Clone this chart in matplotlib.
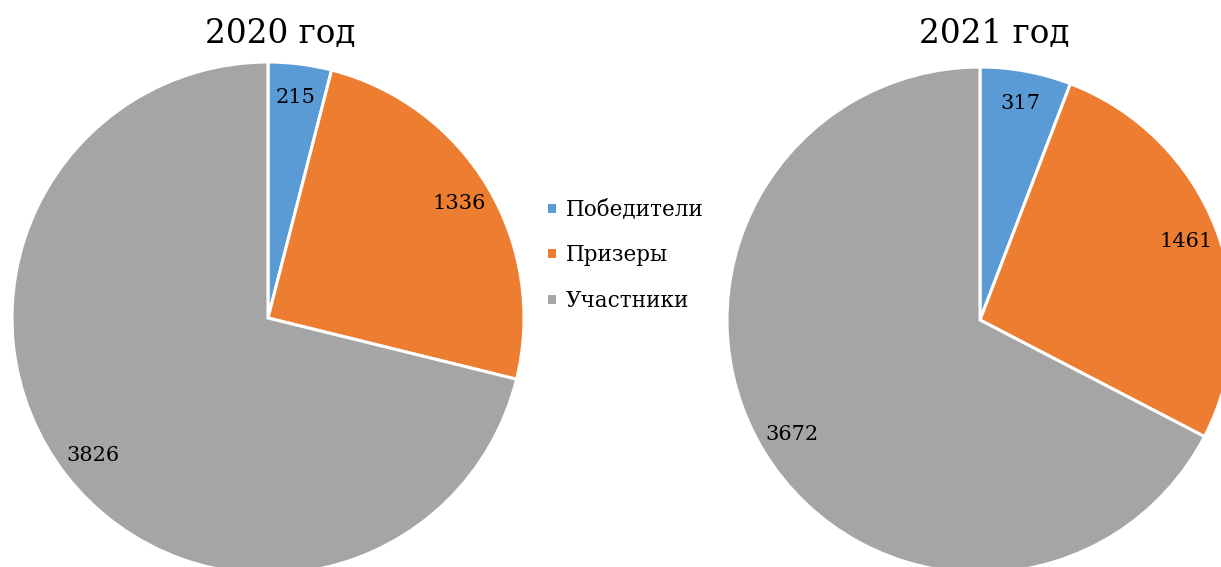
import matplotlib
matplotlib.use('Agg')
from matplotlib import pyplot as plt

plt.rcParams['font.family'] = ['DejaVu Serif']

categories = ['Победители', 'Призеры', 'Участники']
values_2020 = [215, 1336, 3826]
values_2021 = [317, 1461, 3672]
titles = ['2020 год', '2021 год']
colors = ['#5B9BD5', '#ED7D31', '#A5A5A5']

W, H = 1221, 567
fig = plt.figure(figsize=(W / 100, H / 100), dpi=100)


def pie_axes(cx, cy, r):
    # центр и радиус в пикселях (y от верха)
    return fig.add_axes([(cx - r) / W, (H - cy - r) / H, 2 * r / W, 2 * r / H])


def draw_pie(ax, vals):
    def fmt(p, vals=vals):
        return f'{int(round(p * sum(vals) / 100))}'
    wedges, _, autotexts = ax.pie(vals, colors=colors, startangle=90, counterclock=False,
                                  autopct=fmt, pctdistance=0.87, radius=1,
                                  wedgeprops=dict(edgecolor='white', linewidth=2.2),
                                  textprops=dict(fontsize=15, color='black'))
    ax.set_xlim(-1, 1)
    ax.set_ylim(-1, 1)
    ax.set_aspect('equal')
    ax.axis('off')
    return wedges


ax1 = pie_axes(268, 318, 256)
wedges = draw_pie(ax1, values_2020)
ax2 = pie_axes(980, 320, 253)
draw_pie(ax2, values_2021)

fig.text(280 / W, 1 - 34 / H, titles[0], ha='center', va='center', fontsize=23.5)
fig.text(994 / W, 1 - 34 / H, titles[1], ha='center', va='center', fontsize=23.5)

fig.legend(wedges, categories, loc='center left', bbox_to_anchor=(527 / W, 1 - 255 / H),
           frameon=False, fontsize=15.5, handlelength=0.5, handleheight=0.5,
           handletextpad=0.4, labelspacing=1.1)

fig.savefig('out.png', dpi=100)
